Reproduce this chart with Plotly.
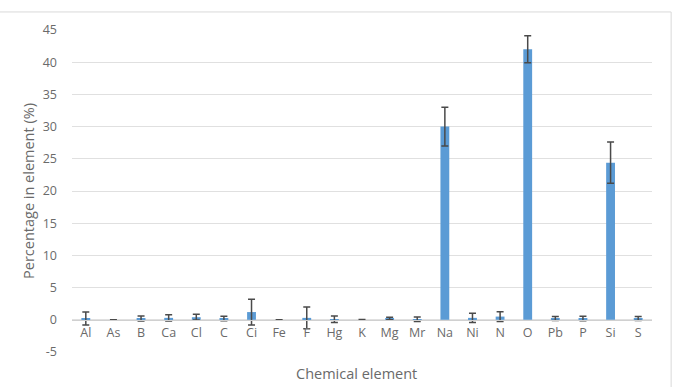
import plotly.graph_objects as go

elements = ["Al", "As", "B", "Ca", "Cl", "C", "Ci", "Fe", "F", "Hg", "K",
            "Mg", "Mr", "Na", "Ni", "N", "O", "Pb", "P", "Si", "S"]
percent = [0.2, 0.0, 0.2, 0.3, 0.4, 0.2, 1.2, 0.0, 0.3, 0.1, 0.0,
           0.2, 0.1, 30.0, 0.3, 0.5, 42.0, 0.2, 0.2, 24.4, 0.2]
error = [1.0, 0.0, 0.4, 0.5, 0.45, 0.35, 2.0, 0.0, 1.7, 0.5, 0.05,
         0.2, 0.35, 3.0, 0.7, 0.75, 2.1, 0.3, 0.35, 3.2, 0.3]
y_ticks = [-5, 0, 5, 10, 15, 20, 25, 30, 35, 40, 45]
y_tick_labels = [str(v) for v in y_ticks]
y_min, y_max = -5, 45

font_color = "#6a6a6a"
fnt = "Open Sans, Liberation Sans, sans-serif"

fig = go.Figure(go.Bar(
    x=elements, y=percent, width=0.32,
    marker=dict(color="#5B9BD5", line=dict(width=0)),
    error_y=dict(type="data", array=error, visible=True,
                 color="#4a4a4a", thickness=1.5, width=3.5),
))

fig.update_layout(
    width=675, height=387,
    margin=dict(l=72, r=23, t=30, b=35),
    paper_bgcolor="white", plot_bgcolor="white",
    showlegend=False,
    font=dict(family=fnt, size=12, color=font_color),
    xaxis=dict(
        type="category", anchor="free",
        position=(0 - y_min) / (y_max - y_min),
        showline=True, linecolor="#d0d0d0", linewidth=1,
        showgrid=False, ticks="", tickfont=dict(size=12.5, color=font_color),
        ticklabelstandoff=1,
    ),
    yaxis=dict(
        range=[y_min, y_max], tickvals=y_ticks, ticktext=y_tick_labels,
        showgrid=True, gridcolor="#e0e0e0", gridwidth=1,
        zeroline=False, showline=False, ticks="",
        tickfont=dict(size=12.5, color=font_color),
        ticklabelstandoff=14,
        title=dict(text="Percentage in element (%)",
                   font=dict(size=14.5, color=font_color), standoff=4),
    ),
    annotations=[dict(
        text="Chemical element", xref="paper", yref="paper",
        x=0.49, y=-0.03, xanchor="center", yanchor="top",
        showarrow=False, font=dict(size=14.5, color=font_color),
    )],
    shapes=[
        dict(type="line", xref="paper", yref="paper", x0=-0.2, x1=1.033,
             y0=1.056, y1=1.056, line=dict(color="#d9d9d9", width=1)),
        dict(type="line", xref="paper", yref="paper", x0=1.033, x1=1.033,
             y0=1.056, y1=-0.2, line=dict(color="#d9d9d9", width=1)),
    ],
)

fig.write_html("out.html")
